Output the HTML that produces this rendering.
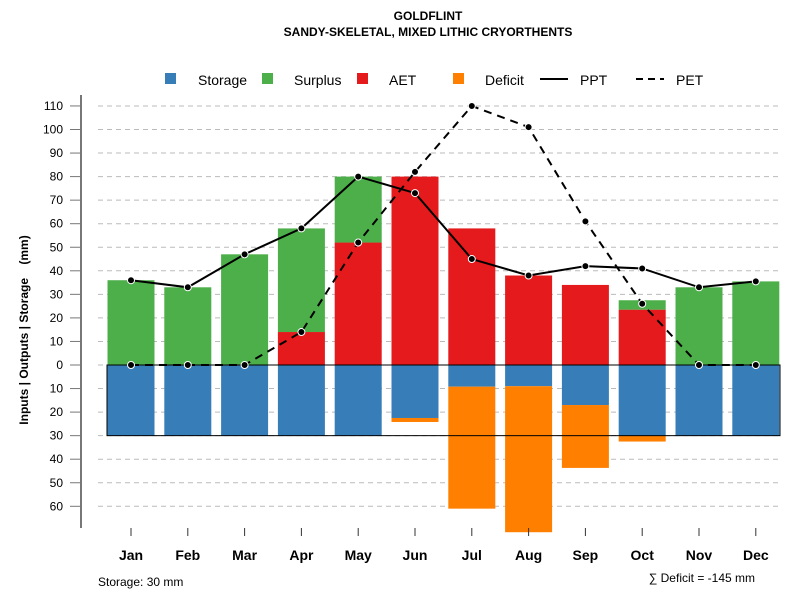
<!DOCTYPE html>
<html><head><meta charset="utf-8"><style>
body{margin:0;background:#fff}
svg text{font-family:"Liberation Sans",Arial,sans-serif}
</style></head><body>
<svg id="c" width="800" height="600" xmlns="http://www.w3.org/2000/svg">
<text x="428" y="20" text-anchor="middle" font-size="12" font-weight="bold">GOLDFLINT</text>
<text x="428" y="36" text-anchor="middle" font-size="12" font-weight="bold">SANDY-SKELETAL, MIXED LITHIC CRYORTHENTS</text>
<g id="legend">
<rect x="165" y="73" width="11" height="11" fill="#377eb8"/>
<text x="198" y="85" font-size="14">Storage</text>
<rect x="262" y="73" width="11" height="11" fill="#4daf4a"/>
<text x="294" y="85" font-size="14">Surplus</text>
<rect x="357" y="73" width="11" height="11" fill="#e41a1c"/>
<text x="389" y="85" font-size="14">AET</text>
<rect x="453" y="73" width="11" height="11" fill="#ff7f00"/>
<text x="485" y="85" font-size="14">Deficit</text>
<line x1="540" y1="79" x2="568" y2="79" stroke="#000" stroke-width="2"/>
<text x="580" y="85" font-size="14">PPT</text>
<line x1="636" y1="79" x2="664" y2="79" stroke="#000" stroke-width="2" stroke-dasharray="7,5"/>
<text x="676" y="85" font-size="14">PET</text>
</g>
<text transform="translate(28,330) rotate(-90)" text-anchor="middle" font-size="12" font-weight="bold">Inputs | Outputs | Storage&#160;&#160;&#160;&#160;(mm)</text>
<text x="98" y="586" font-size="12">Storage: 30 mm</text>
<text x="755" y="582" text-anchor="end" font-size="12">∑ Deficit = -145 mm</text>
<g id="plot"></g>
</svg>
<script>
const months=["Jan","Feb","Mar","Apr","May","Jun","Jul","Aug","Sep","Oct","Nov","Dec"];
const storage=[30,30,30,30,30,22.5,9.2,9,17,30,30,30];
const deficit=[0,0,0,0,0,1.7,51.8,62,26.7,2.5,0,0];
const aet=[0,0,0,14,52,80,58,38,34,23.5,0,0];
const surplus=[36,33,47,44,28,0,0,0,0,4,33,35.5];
const ppt=[36,33,47,58,80,73,45,38,42,41,33,35.5];
const pet=[0,0,0,14,52,82,110,101,61,26,0,0];
const posTicks=[0,10,20,30,40,50,60,70,80,90,100,110];
const negTicks=[10,20,30,40,50,60];
const storageCap=30;
const NS="http://www.w3.org/2000/svg";
const g=document.getElementById("plot");
const y=v=>365-v*2.355;
const x=i=>131+i*56.8;
const bw=47;
function mk(t,a){const e=document.createElementNS(NS,t);for(const k in a)e.setAttribute(k,a[k]);g.appendChild(e);return e;}
posTicks.concat(negTicks.map(v=>-v)).forEach(v=>{
 const l=mk("line",{x1:98,x2:780,y1:y(v),y2:y(v),stroke:"#bbb","stroke-dasharray":"5,4"});
 
 
 const t=mk("line",{x1:70,x2:81,y1:y(v),y2:y(v),stroke:"#777"});
 
 
 const tx=mk("text",{x:63,y:y(v)+4,"text-anchor":"end","font-size":12});
 tx.textContent=Math.abs(v);
 
 
});
const ax=mk("line",{x1:81,x2:81,y1:95,y2:528,stroke:"#777","stroke-width":2});


months.forEach((m,i)=>{
 const cx=x(i),l=cx-bw/2;
 let r;
 r=mk("rect",{x:l,y:y(0),width:bw,height:y(-storage[i])-y(0),fill:"#377eb8"});
 
 
 if(deficit[i]>0){r=mk("rect",{x:l,y:y(-storage[i]),width:bw,height:y(-storage[i]-deficit[i])-y(-storage[i]),fill:"#ff7f00"});
 
 }
 if(aet[i]>0){r=mk("rect",{x:l,y:y(aet[i]),width:bw,height:y(0)-y(aet[i]),fill:"#e41a1c"});
 
 }
 if(surplus[i]>0){r=mk("rect",{x:l,y:y(aet[i]+surplus[i]),width:bw,height:y(aet[i])-y(aet[i]+surplus[i]),fill:"#4daf4a"});
 
 }
 const t=mk("line",{x1:cx,x2:cx,y1:528,y2:536,stroke:"#333"});
 
 
 const tx=mk("text",{x:cx,y:560,"text-anchor":"middle","font-size":14,"font-weight":"bold"});
 tx.textContent=m;
 
 
});
const box=mk("rect",{x:107,y:y(0),width:673,height:y(-storageCap)-y(0),fill:"none",stroke:"#000","stroke-width":1});


const pl=mk("polyline",{points:pet.map((v,i)=>x(i)+","+y(v)).join(" "),fill:"none",stroke:"#000","stroke-width":2,"stroke-dasharray":"8,6"});


const pp=mk("polyline",{points:ppt.map((v,i)=>x(i)+","+y(v)).join(" "),fill:"none",stroke:"#000","stroke-width":2});


[ppt,pet].forEach((s,k)=>s.forEach((v,i)=>{
 const c=mk("circle",{cx:x(i),cy:y(v),r:3.5,fill:"#000",stroke:"#fff","stroke-width":1});
 
 
}));
</script>
</body></html>
